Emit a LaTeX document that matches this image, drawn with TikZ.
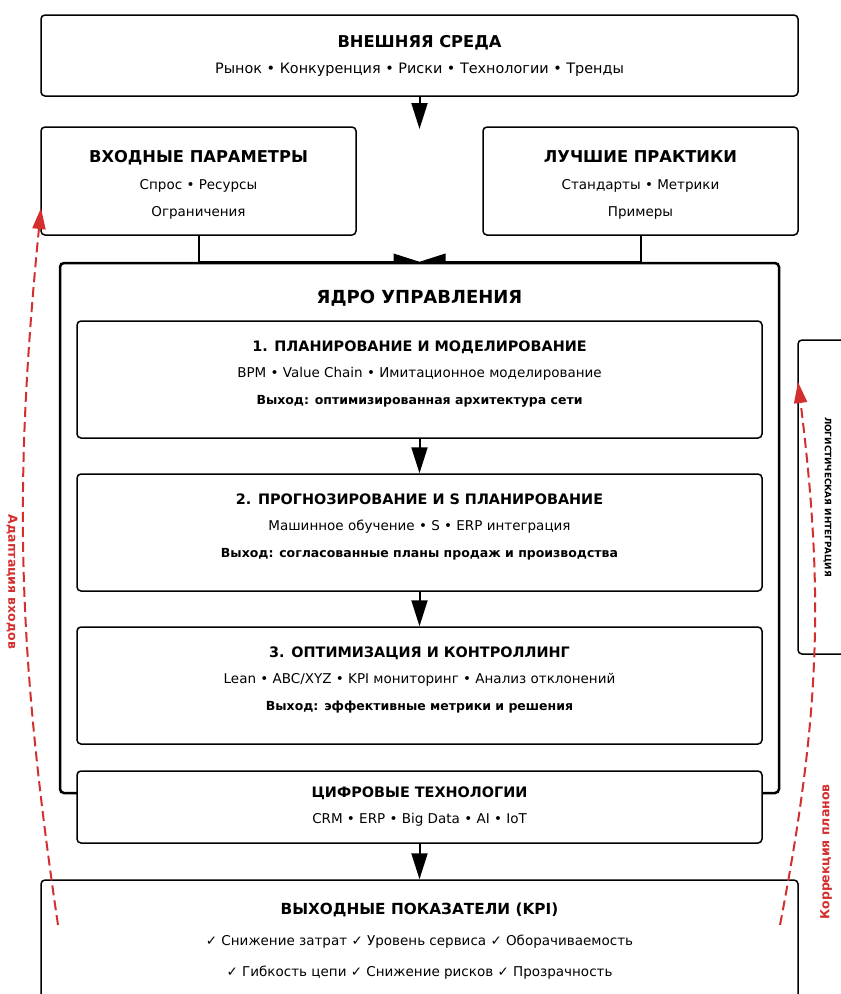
\documentclass[tikz,border=0pt]{standalone}
\usepackage{fontspec}
\setmainfont{DejaVu Sans}
\usetikzlibrary{positioning}
\usetikzlibrary{arrows.meta}
\usetikzlibrary{backgrounds}
\definecolor{kred}{RGB}{211,47,47}

\begin{document}
\begin{tikzpicture}[x=1pt, y=-1pt,
    box/.style={draw, line width=1.5pt, rounded corners=4pt, fill=white, inner sep=0pt},
    coreBox/.style={box, line width=2.5pt},
    title/.style={font=\fontsize{16.3}{19}\selectfont\bfseries, text height=11.5pt, text depth=0pt, inner sep=0pt},
    stageTitle/.style={title, font=\fontsize{14.4}{17}\selectfont\bfseries, text height=10.5pt},
    body/.style={font=\fontsize{13.5}{16}\selectfont, text height=9.8pt, text depth=0pt, inner sep=0pt},
    result/.style={font=\fontsize{12.5}{15}\selectfont\bfseries, text height=9pt, text depth=0pt, inner sep=0pt},
    flow/.style={line width=2pt, -{Triangle[length=26pt, width=16pt]}},
    feedback/.style={draw=kred, line width=2pt, dash pattern=on 10pt off 5pt, -{Triangle[length=21pt, width=13pt]}},
  ]
    \useasboundingbox (0,0) rectangle (841,994);

    % outer environment and inputs
    \node[box, minimum width=757pt, minimum height=81pt] (env) at (419.5,55.5) {};
    \node[title] (env_t) at (419.5,42) {ВНЕШНЯЯ СРЕДА};
    \node[body, font=\fontsize{14.4}{17}\selectfont] (env_1) at (419.5,69) {Рынок • Конкуренция • Риски • Технологии • Тренды};

    \node[box, minimum width=315pt, minimum height=108pt] (inputs) at (198.5,181) {};
    \node[title] (inputs_t) at (198.5,157) {ВХОДНЫЕ ПАРАМЕТРЫ};
    \node[body] (inputs_1) at (198.5,185) {Спрос • Ресурсы};
    \node[body] (inputs_2) at (198.5,212) {Ограничения};

    \node[box, minimum width=315pt, minimum height=108pt] (practice) at (640.5,181) {};
    \node[title] (practice_t) at (640.5,157) {ЛУЧШИЕ ПРАКТИКИ};
    \node[body] (practice_1) at (640.5,185) {Стандарты • Метрики};
    \node[body] (practice_2) at (640.5,212) {Примеры};

    % control core
    \node[coreBox, minimum width=719pt, minimum height=530pt] (core) at (419.5,528) {};
    \node[title, font=\fontsize{18}{21}\selectfont\bfseries, text height=13pt] (core_t) at (419.5,297) {ЯДРО УПРАВЛЕНИЯ};

    \node[box, minimum width=685pt, minimum height=117pt] (stage_1) at (419.5,379.5) {};
    \node[stageTitle] (stage_1_t) at (419.5,346) {1. ПЛАНИРОВАНИЕ И МОДЕЛИРОВАНИЕ};
    \node[body] (stage_1_1) at (419.5,373) {BPM • Value Chain • Имитационное моделирование};
    \node[result] (stage_1_2) at (419.5,400) {Выход: оптимизированная архитектура сети};

    \node[box, minimum width=685pt, minimum height=117pt] (stage_2) at (419.5,532.5) {};
    \node[stageTitle] (stage_2_t) at (419.5,499) {2. ПРОГНОЗИРОВАНИЕ И S ПЛАНИРОВАНИЕ};
    \node[body] (stage_2_1) at (419.5,526) {Машинное обучение • S • ERP интеграция};
    \node[result] (stage_2_2) at (419.5,553) {Выход: согласованные планы продаж и производства};

    \node[box, minimum width=685pt, minimum height=117pt] (stage_3) at (419.5,685.5) {};
    \node[stageTitle] (stage_3_t) at (419.5,652) {3. ОПТИМИЗАЦИЯ И КОНТРОЛЛИНГ};
    \node[body] (stage_3_1) at (419.5,679) {Lean • ABC/XYZ • KPI мониторинг • Анализ отклонений};
    \node[result] (stage_3_2) at (419.5,706) {Выход: эффективные метрики и решения};

    \node[box, minimum width=685pt, minimum height=72pt] (digital) at (419.5,807) {};
    \node[stageTitle] (digital_t) at (419.5,792) {ЦИФРОВЫЕ ТЕХНОЛОГИИ};
    \node[body] (digital_1) at (419.5,819) {CRM • ERP • Big Data • AI • IoT};

    % outputs
    \node[box, minimum width=757pt, minimum height=130pt] (kpi) at (419.5,945) {};
    \node[title, font=\fontsize{15.3}{18}\selectfont\bfseries] (kpi_t) at (419.5,909) {ВЫХОДНЫЕ ПОКАЗАТЕЛИ (KPI)};
    \node[body] (kpi_1) at (419.5,941) {✓ Снижение затрат ✓ Уровень сервиса ✓ Оборачиваемость};
    \node[body] (kpi_2) at (419.5,972) {✓ Гибкость цепи ✓ Снижение рисков ✓ Прозрачность};

    % side panel
    \node[box, minimum width=62pt, minimum height=314pt] (logistics) at (829,497) {};
    \node[font=\fontsize{8.85}{11}\selectfont\bfseries, rotate=-90] (logistics_t) at (827.5,497) {ЛОГИСТИЧЕСКАЯ ИНТЕГРАЦИЯ};

    \coordinate (env_tip) at (419.5,129);
    \draw[flow] (env) -- (env_tip);
    \begin{pgfonlayer}{background}
      \draw[flow] (inputs.south) |- (core.north);
      \draw[flow] (practice.south) |- (core.north);
    \end{pgfonlayer}
    \draw[flow] (stage_1) -- (stage_2);
    \draw[flow] (stage_2) -- (stage_3);
    \draw[flow] (digital) -- (kpi);

    % feedback loops
    \coordinate (adapt_s) at (58,925);
    \coordinate (adapt_e) at (41,208);
    \coordinate (correct_s) at (780,925);
    \coordinate (correct_e) at (798,382);
    \draw[feedback] (adapt_s) to[bend left=7] (adapt_e);
    \draw[feedback] (correct_s) to[bend right=9] (correct_e);
    \node[text=kred, font=\fontsize{12.5}{15}\selectfont\bfseries, rotate=-90] (adapt_l) at (12,582) {Адаптация входов};
    \node[text=kred, font=\fontsize{12.5}{15}\selectfont\bfseries, rotate=90] (correct_l) at (826,852) {Коррекция планов};
  \end{tikzpicture}
\end{document}
